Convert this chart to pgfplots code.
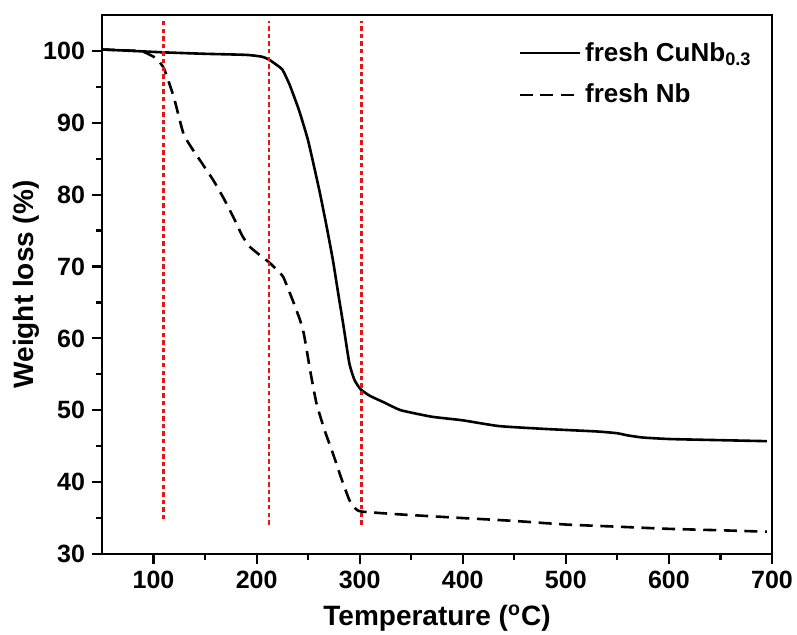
\documentclass[border=0pt]{standalone}
\usepackage{fontspec}
\setmainfont{Liberation Sans}
\usepackage{pgfplots}
\pgfplotsset{compat=1.18}

\definecolor{vred}{RGB}{230,20,20}

\begin{document}
\begin{tikzpicture}
\begin{axis}[
    scale only axis,
    width=335pt, height=269.5pt,
    xmin=50, xmax=700, ymin=30, ymax=105,
    xtick={100,200,...,700},
    ytick={30,40,...,100},
    minor x tick num=1, minor y tick num=1,
    xtick pos=bottom, ytick pos=left,
    tick align=outside,
    major tick length=5pt, minor tick length=2.8pt,
    axis line style={line width=1.2pt},
    every tick/.style={line width=1.1pt, black},
    /pgf/number format/assume math mode=true,
    ticklabel style={font=\bfseries\fontsize{12.5}{14}\selectfont},
    xlabel={Temperature (\textsuperscript{o}C)},
    ylabel={Weight loss (\%)},
    label style={font=\bfseries\fontsize{14}{16}\selectfont},
    xlabel style={yshift=-1pt},
    ylabel style={yshift=-5pt},
    legend style={draw=none, fill=none, at={(0.985,0.965)}, anchor=north east,
      font=\bfseries\fontsize{13}{15}\selectfont, row sep=6pt,
      /tikz/every even column/.append style={column sep=0pt}},
    legend cell align=left,
    legend image code/.code={\draw[#1] (0pt,0pt) -- (30pt,0pt);},
]
\addplot[black, line width=1.3pt, smooth, tension=0.3] coordinates {
(50,100.2) (80,100.0) (110,99.8) (150,99.6) (190,99.45) (205,99.2) (212,98.8)
(218,98.2) (225,97.4) (232,95.3) (241,91.8) (250,87.5) (261,80.5) (268,75.5)
(274,70.9) (280,65.5) (284,62.0) (290,56.5) (295,54.2) (301,52.9) (310,52.0)
(325,51.0) (340,50.0) (370,49.1) (400,48.6) (435,47.8) (480,47.4) (530,47.05)
(550,46.8) (560,46.5) (575,46.2) (600,46.0) (630,45.9) (695,45.7)
};
\addlegendentry{fresh CuNb\textsubscript{0.3}}
\addplot[black, line width=1.3pt, dash pattern=on 6.5pt off 3.8pt, smooth, tension=0.3] coordinates {
(50,100.2) (85,100.0) (90,99.9) (100,99.2) (105,98.6) (110,97.6) (115,95.6)
(120,93.4) (129,88.5) (137,86.5) (145,84.8) (158,82.0) (168,79.5) (177,77.0)
(186,74.3) (193,72.8) (203,71.6) (212,70.6) (220,69.5) (226,68.5) (235,65.3)
(242,62.6) (246,60.5) (252,55.5) (258,51.0) (266,47.2) (274,44.0) (282,40.6)
(290,37.5) (296,36.3) (302,35.9) (340,35.5) (400,35.0) (450,34.6) (500,34.1)
(550,33.8) (600,33.5) (650,33.3) (695,33.1)
};
\addlegendentry{fresh Nb}
\addplot[vred, line width=1.4pt, dash pattern=on 2.2pt off 1.6pt, forget plot] coordinates {(110,34.8) (110,104.2)};
\addplot[vred, line width=1.4pt, dash pattern=on 2.2pt off 1.6pt, forget plot] coordinates {(212,34.1) (212,104.2)};
\addplot[vred, line width=1.4pt, dash pattern=on 2.2pt off 1.6pt, forget plot] coordinates {(302,34.1) (302,104.2)};
\coordinate (sw) at (rel axis cs:0,0);
\coordinate (ne) at (rel axis cs:1,1);
\end{axis}
\pgfresetboundingbox
\path ([shift={(-51pt,-40.5pt)}]sw) rectangle ([shift={(12.5pt,7.5pt)}]ne);
\end{tikzpicture}
\end{document}
